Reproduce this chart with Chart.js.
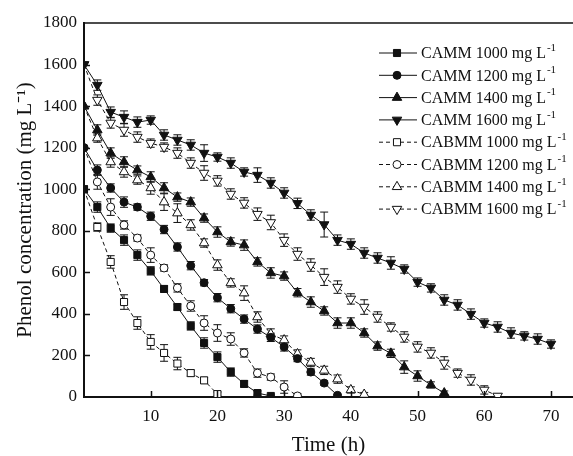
<!DOCTYPE html>
<html>
<head>
<meta charset="utf-8">
<script src="https://cdn.jsdelivr.net/npm/chart.js@4"></script>
<style>
  html, body { margin: 0; padding: 0; background: #fff; }
  #wrap { width: 573px; height: 456px; }
</style>
</head>
<body>
<div id="wrap"><canvas id="phenolChart" width="573" height="456"></canvas></div>
<script>
// 時間 (h)
const hours = [0, 2, 4, 6, 8, 10, 12, 14, 16, 18, 20, 22, 24, 26, 28, 30, 32, 34,
    36, 38, 40, 42, 44, 46, 48, 50, 52, 54, 56, 58, 60, 62, 64, 66, 68, 70];

const xTicks = [10, 20, 30, 40, 50, 60, 70];
const yTicks = [0, 200, 400, 600, 800, 1000, 1200, 1400, 1600, 1800];

// CAMM
const camm1000 = [1000, 914, 813, 755, 683, 607, 520, 433, 342, 260, 192, 120, 63, 19, 5];
const camm1200 = [1200, 1092, 1006, 938, 914, 870, 806, 722, 632, 550, 478, 425, 375, 327, 287, 241, 185, 120, 67, 8];
const camm1400 = [1400, 1285, 1174, 1131, 1092, 1059, 1006, 962, 938, 861, 794, 746, 731, 650, 597, 582, 502, 457, 414, 356, 356, 308, 245, 210, 144, 101, 58, 19];
const camm1600 = [1600, 1501, 1371, 1347, 1323, 1333, 1261, 1237, 1213, 1174, 1155, 1126, 1083, 1068, 1030, 982, 932, 876, 830, 755, 736, 693, 669, 645, 616, 553, 525, 467, 443, 399, 356, 337, 308, 294, 279, 255];

// CABMM
const cabmm1000 = [1000, 818, 650, 457, 356, 265, 212, 161, 115, 80, 14];
const cabmm1200 = [1200, 1035, 914, 828, 765, 683, 621, 525, 438, 356, 308, 279, 212, 115, 96, 48, 5];
const cabmm1400 = [1400, 1246, 1131, 1083, 1044, 1006, 938, 885, 828, 741, 635, 549, 500, 385, 303, 274, 207, 166, 128, 86, 34, 12];
const cabmm1600 = [1600, 1429, 1319, 1285, 1251, 1222, 1203, 1174, 1126, 1078, 1040, 977, 934, 880, 840, 755, 688, 635, 577, 529, 472, 433, 385, 337, 289, 241, 212, 164, 115, 82, 34, 5];

// 標準偏差
const errCamm1000 = [0, 25, 20, 25, 25, 20, 15, 15, 20, 25, 25, 20, 15, 10, 5];
const errCamm1200 = [0, 25, 20, 25, 15, 20, 20, 20, 20, 15, 20, 20, 20, 20, 20, 20, 15, 15, 10, 5];
const errCamm1400 = [0, 25, 25, 25, 20, 25, 25, 20, 20, 20, 25, 20, 25, 20, 25, 20, 20, 25, 20, 25, 25, 20, 20, 20, 30, 25, 15, 10];
const errCamm1600 = [0, 25, 25, 30, 25, 20, 25, 25, 25, 40, 20, 25, 20, 35, 25, 25, 25, 25, 60, 25, 25, 25, 25, 30, 20, 20, 20, 25, 25, 25, 20, 25, 25, 20, 25, 20];
const errCabmm1000 = [0, 20, 30, 35, 30, 35, 40, 30, 15, 15, 10];
const errCabmm1200 = [0, 35, 40, 20, 15, 35, 15, 20, 25, 35, 40, 30, 20, 20, 15, 30, 10];
const errCabmm1400 = [0, 20, 25, 25, 20, 30, 40, 45, 25, 20, 25, 20, 35, 25, 25, 20, 20, 20, 20, 20, 15, 10];
const errCabmm1600 = [0, 25, 25, 30, 25, 20, 20, 25, 25, 35, 25, 25, 25, 30, 35, 30, 30, 30, 40, 30, 25, 35, 25, 20, 25, 25, 25, 30, 20, 25, 20, 10];

const serif = "'Liberation Serif', 'Times New Roman', serif";
const ink = '#111';

function series(name, values, errs, style, rotation, filled, dashed) {
    return {
        label: name,
        data: values.map((v, i) => ({ x: hours[i], y: v })),
        errors: errs,
        borderColor: ink,
        borderWidth: 1,
        borderDash: dashed ? [4, 3] : [],
        pointStyle: style,
        rotation: rotation,
        pointRadius: style === 'circle' ? 4 : (style === 'rect' ? 5 : 5.5),
        pointBackgroundColor: filled ? ink : '#fff',
        pointBorderColor: ink,
        pointBorderWidth: 1,
        fill: false,
        tension: 0
    };
}

const datasets = [
    series('CAMM 1000 mg L', camm1000, errCamm1000, 'rect', 0, true, false),
    series('CAMM 1200 mg L', camm1200, errCamm1200, 'circle', 0, true, false),
    series('CAMM 1400 mg L', camm1400, errCamm1400, 'triangle', 0, true, false),
    series('CAMM 1600 mg L', camm1600, errCamm1600, 'triangle', 180, true, false),
    series('CABMM 1000 mg L', cabmm1000, errCabmm1000, 'rect', 0, false, true),
    series('CABMM 1200 mg L', cabmm1200, errCabmm1200, 'circle', 0, false, true),
    series('CABMM 1400 mg L', cabmm1400, errCabmm1400, 'triangle', 0, false, true),
    series('CABMM 1600 mg L', cabmm1600, errCabmm1600, 'triangle', 180, false, true)
];

// エラーバー
const errorBars = {
    id: 'errorBars',
    beforeDatasetsDraw(chart) {
        const ctx = chart.ctx, y = chart.scales.y, a = chart.chartArea;
        ctx.save();
        ctx.beginPath();
        ctx.rect(a.left, a.top, a.right - a.left, a.bottom - a.top);
        ctx.clip();
        ctx.strokeStyle = ink;
        ctx.lineWidth = 1;
        chart.data.datasets.forEach((ds, di) => {
            const meta = chart.getDatasetMeta(di);
            meta.data.forEach((pt, i) => {
                const e = ds.errors[i];
                if (!e) return;
                const v = ds.data[i].y;
                const top = y.getPixelForValue(v + e), bot = y.getPixelForValue(v - e);
                ctx.beginPath();
                ctx.moveTo(pt.x, top); ctx.lineTo(pt.x, bot);
                ctx.moveTo(pt.x - 4, top); ctx.lineTo(pt.x + 4, top);
                ctx.moveTo(pt.x - 4, bot); ctx.lineTo(pt.x + 4, bot);
                ctx.stroke();
            });
        });
        ctx.restore();
    }
};

// 枠線・内向き目盛・凡例
const frameAndLegend = {
    id: 'frameAndLegend',
    afterDraw(chart) {
        const ctx = chart.ctx, a = chart.chartArea, xs = chart.scales.x, ys = chart.scales.y;
        ctx.save();
        ctx.strokeStyle = ink;
        ctx.lineWidth = 1.5;
        ctx.beginPath();
        ctx.moveTo(a.left, a.top); ctx.lineTo(a.right, a.top);
        ctx.stroke();
        ctx.beginPath();
        xTicks.forEach(t => {
            const px = Math.round(xs.getPixelForValue(t)) + 0.5;
            ctx.moveTo(px, a.bottom); ctx.lineTo(px, a.bottom - 6);
        });
        yTicks.forEach(t => {
            if (t === 0 || t === 1800) return;
            const py = Math.round(ys.getPixelForValue(t)) + 0.5;
            ctx.moveTo(a.left, py); ctx.lineTo(a.left + 6, py);
        });
        ctx.stroke();

        // 凡例
        const lx0 = 379, lx1 = 417, mx = 397, tx = 421;
        chart.data.datasets.forEach((ds, i) => {
            const cy = 53 + i * 22.3;
            ctx.lineWidth = 1;
            ctx.strokeStyle = ink;
            ctx.setLineDash(ds.borderDash);
            ctx.beginPath();
            ctx.moveTo(lx0, cy); ctx.lineTo(lx1, cy);
            ctx.stroke();
            ctx.setLineDash([]);
            ctx.fillStyle = ds.pointBackgroundColor;
            ctx.strokeStyle = ink;
            Chart.helpers.drawPoint(ctx, {
                pointStyle: ds.pointStyle,
                rotation: ds.rotation,
                radius: ds.pointRadius,
                borderWidth: 1
            }, mx, cy);
            ctx.fillStyle = ink;
            ctx.font = '16px ' + serif;
            ctx.textBaseline = 'middle';
            ctx.textAlign = 'left';
            ctx.fillText(ds.label, tx, cy + 1);
            const w = ctx.measureText(ds.label).width;
            ctx.font = '11px ' + serif;
            ctx.fillText('-1', tx + w + 1, cy - 5);
        });
        ctx.restore();
    }
};

new Chart(document.getElementById('phenolChart').getContext('2d'), {
    type: 'line',
    data: { datasets: datasets },
    plugins: [errorBars, frameAndLegend],
    options: {
        responsive: false,
        animation: false,
        layout: { autoPadding: false, padding: { top: 23, right: 0, left: 0, bottom: 0 } },
        plugins: {
            legend: { display: false },
            tooltip: { enabled: false }
        },
        scales: {
            x: {
                type: 'linear',
                min: 0,
                max: 73.3,
                afterBuildTicks: axis => { axis.ticks = xTicks.map(v => ({ value: v })); },
                afterFit: axis => { axis.height = 59; axis.paddingLeft = 0; axis.paddingRight = 0; },
                grid: { display: true, drawOnChartArea: false, drawTicks: false },
                border: { display: true, color: ink, width: 2 },
                ticks: {
                    color: ink,
                    padding: 9,
                    maxRotation: 0,
                    autoSkip: false,
                    callback: v => String(v),
                    font: { family: serif, size: 17 }
                },
                title: {
                    display: true,
                    text: 'Time (h)',
                    color: ink,
                    padding: { top: 0, bottom: 0 },
                    font: { family: serif, size: 21, lineHeight: 1 }
                }
            },
            y: {
                min: 0,
                max: 1800,
                afterBuildTicks: axis => { axis.ticks = yTicks.map(v => ({ value: v })); },
                afterFit: axis => { axis.width = 84; axis.paddingTop = 0; axis.paddingBottom = 0; },
                grid: { display: true, drawOnChartArea: false, drawTicks: false },
                border: { display: true, color: ink, width: 2 },
                ticks: {
                    color: ink,
                    padding: 7,
                    callback: v => String(v),
                    font: { family: serif, size: 17 }
                },
                title: {
                    display: true,
                    text: 'Phenol concentration (mg L⁻¹)',
                    color: ink,
                    padding: { top: 15, bottom: 0 },
                    font: { family: serif, size: 21, lineHeight: 1 }
                }
            }
        }
    }
});
</script>
</body>
</html>
